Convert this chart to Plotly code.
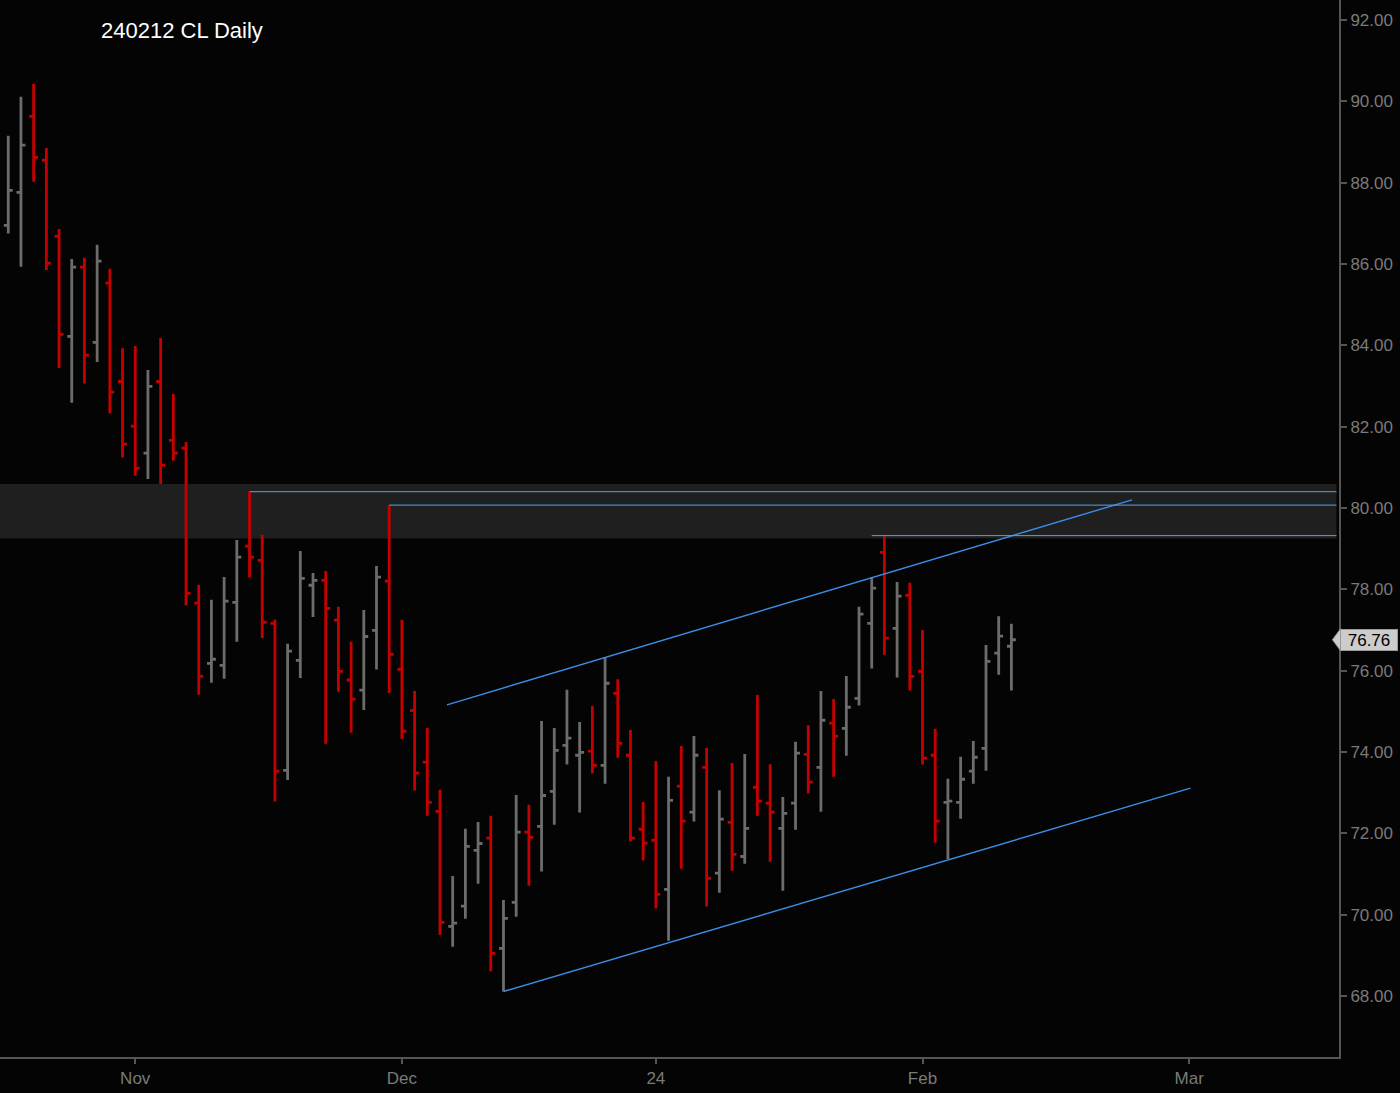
import numpy as np
import pandas as pd
import plotly.graph_objects as go

# CL daily bars, 2023-10-18 .. 2024-02-12 (exchange holidays skipped)
holidays = ["2023-11-23", "2023-12-25", "2024-01-01", "2024-01-15"]
dates = pd.bdate_range("2023-10-18", "2024-02-12", freq="C", holidays=holidays)

opens = [86.95, 87.76, 89.63, 88.55, 86.68, 84.22, 85.92, 84.07, 85.53, 83.11,
         82.01, 81.35, 83.11, 81.66, 81.47, 77.66, 76.18, 76.13, 77.68, 79.06,
         78.71, 77.16, 73.55, 76.25, 78.10, 78.22, 77.24, 75.77, 75.52, 76.99,
         78.20, 76.03, 75.02, 73.75, 72.54, 69.71, 70.21, 71.58, 71.88, 69.17,
         70.30, 72.03, 72.17, 73.03, 74.16, 73.92, 74.02, 73.67, 75.44, 73.92,
         72.10, 71.83, 70.62, 73.16, 72.52, 73.62, 71.02, 72.27, 71.43, 73.13,
         72.74, 72.12, 72.74, 73.94, 73.62, 74.71, 74.58, 75.32, 77.16, 78.91,
         77.04, 77.85, 75.98, 73.92, 72.76, 72.76, 73.53, 74.09, 76.43, 76.60]
highs = [89.15, 90.11, 90.43, 88.85, 86.86, 86.12, 86.15, 86.47, 85.88, 83.93,
         83.98, 83.39, 84.18, 82.80, 81.62, 78.11, 77.74, 78.30, 79.21, 80.40,
         79.34, 77.26, 76.66, 78.94, 78.40, 78.45, 77.57, 76.71, 77.49, 78.57,
         80.07, 77.25, 75.50, 74.59, 73.07, 70.95, 72.11, 72.28, 72.43, 70.36,
         72.94, 72.70, 74.76, 74.59, 75.53, 74.74, 75.13, 76.33, 75.79, 74.54,
         72.77, 73.78, 73.39, 74.15, 74.39, 74.10, 73.06, 73.73, 73.95, 75.40,
         73.70, 72.89, 74.25, 74.66, 75.50, 75.30, 75.87, 77.57, 78.30, 79.33,
         78.18, 78.16, 77.00, 74.57, 73.34, 73.88, 74.27, 76.63, 77.34, 77.15]
lows = [86.75, 85.93, 88.02, 85.85, 83.44, 82.59, 83.06, 83.59, 82.32, 81.24,
        80.79, 80.71, 80.59, 81.16, 77.60, 75.41, 75.70, 75.80, 76.71, 78.29,
        76.80, 72.78, 73.31, 75.82, 77.32, 74.20, 75.48, 74.47, 75.03, 76.03,
        75.45, 74.32, 73.05, 72.43, 69.50, 69.21, 69.90, 70.76, 68.61, 68.11,
        69.95, 70.71, 71.06, 72.21, 73.69, 72.51, 73.47, 73.22, 73.86, 71.80,
        71.33, 70.15, 69.36, 71.13, 72.29, 70.20, 70.54, 71.08, 71.25, 72.43,
        71.30, 70.59, 72.09, 72.98, 72.53, 73.39, 73.91, 75.14, 76.05, 76.39,
        75.83, 75.51, 73.69, 71.77, 71.37, 72.36, 73.22, 73.54, 75.90, 75.51]
closes = [87.81, 88.92, 88.62, 86.02, 84.27, 85.92, 83.76, 86.07, 82.85, 81.57,
          80.98, 82.99, 81.05, 81.35, 77.90, 75.86, 76.28, 77.71, 78.79, 78.79,
          77.19, 73.53, 76.48, 78.27, 78.22, 77.53, 75.98, 75.30, 76.84, 78.30,
          76.40, 74.51, 73.48, 72.76, 69.81, 69.79, 71.68, 71.75, 69.05, 69.91,
          72.03, 71.90, 72.93, 74.04, 74.34, 73.99, 73.67, 75.69, 74.21, 71.88,
          71.76, 70.50, 72.81, 72.30, 73.92, 70.89, 72.35, 71.48, 72.12, 72.79,
          72.52, 72.49, 73.97, 73.26, 74.78, 74.39, 75.10, 77.39, 78.03, 76.80,
          77.83, 75.86, 73.85, 72.30, 72.79, 73.33, 73.87, 76.23, 76.85, 76.76]

tick_dates = ["2023-11-01", "2023-12-01", "2024-01-02", "2024-02-01", "2024-03-01"]
tick_text = ["Nov", "Dec", "24", "Feb", "Mar"]

# resistance levels drawn from a bar to the right edge
level_prices = [80.40, 80.07, 79.32]
level_start = ["2023-11-14", "2023-11-30", "2024-01-26"]
zone = [79.25, 80.59]

# channel lines (bar index, price)
upper_x = [34.55, 88.5]
upper_y = [75.16, 80.20]
lower_x = [39.0, 93.1]
lower_y = [68.11, 73.11]

x_range = [-0.65, 104.8]
y_range = [66.50, 92.49]

# bar position = trading-day index; future dates counted as weekdays
last = dates[-1]
def pos(d):
    d = pd.Timestamp(d)
    if d <= last:
        return int(dates.searchsorted(d))
    return len(dates) - 1 + int(np.busday_count(last.date(), d.date()))

x = list(range(len(dates)))

fig = go.Figure()
fig.add_trace(go.Ohlc(
    x=x, open=opens, high=highs, low=lows, close=closes,
    increasing=dict(line=dict(color="#6c6c6c", width=2.8)),
    decreasing=dict(line=dict(color="#c40000", width=2.8)),
    tickwidth=0.35, hoverinfo="skip",
))
for lx, ly in [(upper_x, upper_y), (lower_x, lower_y)]:
    fig.add_trace(go.Scatter(x=lx, y=ly, mode="lines", hoverinfo="skip",
                             line=dict(color="#3a8ee6", width=1.4)))

fig.add_shape(type="rect", xref="x", yref="y", x0=x_range[0], x1=104.6,
              y0=zone[0], y1=zone[1], fillcolor="#1f1f1f", line_width=0, layer="below")
for p, s in zip(level_prices, level_start):
    fig.add_shape(type="line", xref="x", yref="y", x0=pos(s), x1=104.6, y0=p, y1=p,
                  line=dict(color="#54a2e8", width=1))

# last price tag on the axis
last_close = closes[-1]
ypap = (last_close - y_range[0]) / (y_range[1] - y_range[0])
fig.add_annotation(xref="paper", yref="y", x=1.0, y=last_close, xanchor="left",
                   xshift=1, text=f"{last_close:.2f}", showarrow=False,
                   font=dict(family="Liberation Sans, Arial", size=17, color="#000000"),
                   bgcolor="#cccccc", bordercolor="#999999", borderwidth=1,
                   borderpad=2, width=52, height=16)
dy = 11 / 1057
fig.add_shape(type="path", xref="paper", yref="paper", layer="above",
              path=f"M 1.0012,{ypap + dy} L 0.9951,{ypap} L 1.0012,{ypap - dy} Z",
              fillcolor="#cccccc", line=dict(color="#999999", width=1))

fig.update_layout(
    width=1400, height=1093,
    margin=dict(l=0, r=61, t=0, b=36),
    paper_bgcolor="#040404", plot_bgcolor="#040404",
    showlegend=False, hovermode=False,
    font=dict(family="Liberation Sans, Arial", color="#7a7a7a", size=17),
    title=dict(text="240212 CL Daily", x=101 / 1400, xanchor="left",
               y=1 - 30 / 1093, yanchor="middle",
               font=dict(family="Liberation Sans, Arial", size=22, color="#ffffff")),
)
fig.update_xaxes(
    range=x_range, rangeslider_visible=False, showgrid=False, zeroline=False,
    showline=True, linecolor="#555555", linewidth=2,
    ticks="outside", ticklen=5, tickcolor="#555555", tickwidth=2,
    tickvals=[pos(d) for d in tick_dates], ticktext=tick_text,
)
fig.update_yaxes(
    range=y_range, side="right", showgrid=False, zeroline=False,
    showline=True, linecolor="#555555", linewidth=2,
    ticks="outside", ticklen=6, tickcolor="#555555", tickwidth=2,
    dtick=2, tickformat=".2f",
)

# the page's default body margin would shift the chart; clear it
fig.write_html("out.html", config={"displayModeBar": False},
               post_script="document.body.style.margin='0';"
                           "document.body.style.background='#040404';")
